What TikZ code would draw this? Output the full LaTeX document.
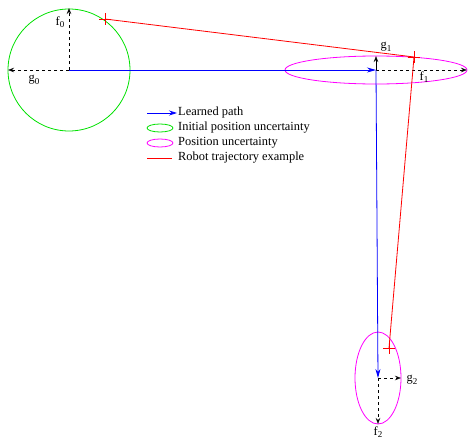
\documentclass[tikz,border=0pt]{standalone}
\usepackage{fontspec}
\setmainfont{Liberation Serif}
\usetikzlibrary{arrows.meta, positioning}
\definecolor{pathblue}{HTML}{0000FF}
\definecolor{initgreen}{HTML}{00E000}
\definecolor{uncmagenta}{HTML}{FF00FF}
\definecolor{trajred}{HTML}{FF0000}
\newcommand{\lab}[2]{#1\raisebox{-2.5pt}{\fontsize{9}{10}\selectfont #2}}

\begin{document}
\begin{tikzpicture}[x=1pt, y=-1pt, font=\fontsize{12.4}{14}\selectfont,
    axis/.style={black, dashed, line width=0.7pt, -{Stealth[open, length=6pt, width=4.5pt]}},
    learned/.style={pathblue, line width=0.8pt, -{Stealth[length=9pt, width=5pt]}},
    traj/.style={trajred, line width=0.8pt},
    lbl/.style={inner sep=1pt}]
    \useasboundingbox (0,0) rectangle (469,439);

    % Waypoints
    \coordinate (p0) at (69,70);
    \coordinate (p1) at (376,70);
    \coordinate (p2) at (378,378);

    % Uncertainty regions
    \draw[initgreen, line width=0.8pt] (p0) circle [radius=61];
    \draw[uncmagenta, line width=0.8pt] (p1) ellipse [x radius=91, y radius=14];
    \draw[uncmagenta, line width=0.8pt] (p2) ellipse [x radius=23, y radius=46];

    % Local axes
    \coordinate (f0) at (69,8);
    \coordinate (g0) at (8,70);
    \coordinate (g1) at (376,56);
    \coordinate (f1) at (467,70);
    \coordinate (g2) at (401,378);
    \coordinate (f2) at (378,424);
    \draw[axis] (p0) -- (f0);
    \draw[axis] (p0) -- (g0);
    \draw[axis, solid] (p1) -- (g1);
    \draw[axis] (p1) -- (f1);
    \draw[axis] (p2) -- (g2);
    \draw[axis] (p2) -- (f2);
    \node[lbl] (lf0) at (60,22) {\lab{f}{0}};
    \node[lbl] (lg0) at (34,80) {\lab{g}{0}};
    \node[lbl] (lg1) at (386,47) {\lab{g}{1}};
    \node[lbl] (lf1) at (424,77) {\lab{f}{1}};
    \node[lbl] (lg2) at (412,380) {\lab{g}{2}};
    \node[lbl] (lf2) at (378,432) {\lab{f}{2}};

    % Learned path
    \draw[learned] (p0) -- (p1);
    \draw[learned] (p1) -- (p2);

    % Robot trajectory
    \coordinate (r0) at (105,19);
    \coordinate (r1) at (414,57);
    \coordinate (r2) at (389,348);
    \draw[traj] (r0) -- (r1) -- (r2);
    \foreach \rp in {r0,r1,r2}
        \draw[traj] (\rp) +(-6,0) -- +(6,0) (\rp) +(0,-6) -- +(0,6);

    % Legend
    \node[lbl, anchor=west] (leg1) at (177,113) {Learned path};
    \node[lbl, anchor=west] (leg2) at (177,128) {Initial position uncertainty};
    \node[lbl, anchor=west] (leg3) at (177,143) {Position uncertainty};
    \node[lbl, anchor=west] (leg4) at (177,158) {Robot trajectory example};
    \draw[learned, -{Stealth[length=8pt, width=5pt]}] (147,113) -- (leg1.west);
    \draw[initgreen, line width=0.8pt] (160,128) ellipse [x radius=13, y radius=4];
    \draw[uncmagenta, line width=0.8pt] (160,143) ellipse [x radius=13, y radius=4];
    \draw[traj] (147,158) -- (172,158);
\end{tikzpicture}
\end{document}
